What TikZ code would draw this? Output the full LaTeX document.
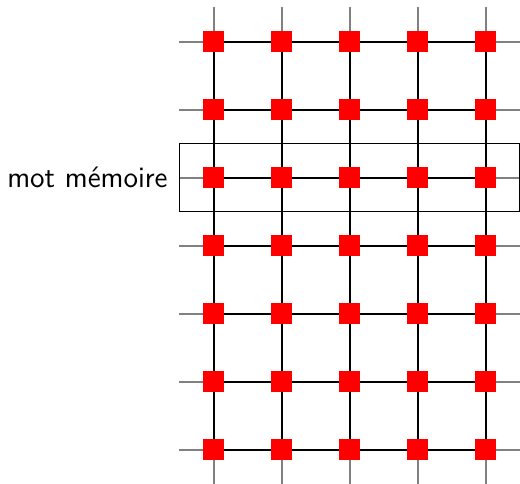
\documentclass[tikz,border=0pt]{standalone}
\begin{document}
\begin{tikzpicture}[x=0.5pt,y=-0.5pt,
  cell/.style={fill=red,draw=none,minimum size=10.5pt,inner sep=0pt,outer sep=0pt},
  wire/.style={black,line width=1pt},
  stub/.style={gray,line width=1pt},
  word/.style={draw=black,line width=0.9pt}]
\useasboundingbox (0,0) rectangle (520,483);
% coordinates of grid
\foreach \c [count=\i] in {213.5,281.5,349.5,417.5,485.5}{
  \coordinate (top-\i) at (\c,7);
  \coordinate (bot-\i) at (\c,484);
}
\foreach \r [count=\j] in {41.5,109.5,177.5,245.5,313.5,381.5,449.5}{
  \coordinate (left-\j) at (179,\r);
  \coordinate (right-\j) at (520,\r);
}
\foreach \i in {1,...,5} \draw[stub] (top-\i) -- (bot-\i);
\foreach \j in {1,...,7} \draw[stub] (left-\j) -- (right-\j);
% nodes
\foreach \c [count=\i] in {213.5,281.5,349.5,417.5,485.5}{
  \foreach \r [count=\j] in {41.5,109.5,177.5,245.5,313.5,381.5,449.5}{
    \coordinate (p-\i-\j) at (\c,\r);
  }
}
\foreach \i in {1,...,5}{
  \foreach \j [evaluate=\j as \k using int(\j+1)] in {1,...,6}{
    \draw[wire] (p-\i-\j) -- (p-\i-\k);
  }
}
\foreach \j in {1,...,7}{
  \foreach \i [evaluate=\i as \k using int(\i+1)] in {1,...,4}{
    \draw[wire] (p-\i-\j) -- (p-\k-\j);
  }
}
\node[word,minimum width=170pt,minimum height=34pt,inner sep=0pt] (mot) at (349.5,177.5) {};
\foreach \i in {1,...,5}{
  \foreach \j in {1,...,7}{
    \node[cell] (n-\i-\j) at (p-\i-\j) {};
  }
}
\node[anchor=base east,font=\sffamily\fontsize{14.8}{18}\selectfont,inner sep=0pt] (label) at (168,187) {mot mémoire};
\end{tikzpicture}
\end{document}
